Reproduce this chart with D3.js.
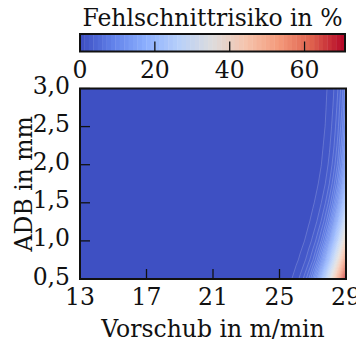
<!DOCTYPE html>
<html><head><meta charset="utf-8">
<script src="https://cdn.jsdelivr.net/npm/d3@7"></script>
<style>
body{margin:0;background:#fff}
svg{display:block}
</style>
</head><body>
<svg id="chart" width="356" height="344"></svg>
<script>
// Feed rate grid (m/min) and ADB grid (mm) on which the risk is sampled
const feedRates = [25, 25.25, 25.5, 25.75, 26, 26.25, 26.5, 26.75, 27, 27.25, 27.5, 27.75, 28, 28.25, 28.5, 28.75, 29];
const adbValues = [0.5, 0.75, 1.0, 1.25, 1.5, 1.75, 2.0, 2.25, 2.5, 2.75, 3.0];
// Miscut risk in %, one row per ADB value (bottom to top), columns follow feedRates.
// Below 25 m/min the risk is practically zero.
const risk = [
  [0.36, 0.53, 0.80, 1.20, 1.79, 2.67, 3.96, 5.83, 8.52, 12.28, 17.38, 24.02, 32.21, 41.67, 51.77, 61.74, 70.8],
  [0.18, 0.28, 0.42, 0.63, 0.94, 1.41, 2.11, 3.14, 4.66, 6.86, 9.99, 14.33, 20.13, 27.53, 36.40, 46.31, 56.51],
  [0.10, 0.15, 0.23, 0.34, 0.52, 0.78, 1.18, 1.78, 2.66, 3.98, 5.91, 8.68, 12.59, 17.90, 24.83, 33.34, 43.09],
  [0.06, 0.09, 0.13, 0.20, 0.30, 0.46, 0.69, 1.05, 1.59, 2.40, 3.60, 5.39, 7.97, 11.65, 16.71, 23.40, 31.73],
  [0.03, 0.05, 0.08, 0.12, 0.18, 0.28, 0.43, 0.65, 1.00, 1.52, 2.30, 3.48, 5.22, 7.78, 11.43, 16.48, 23.18],
  [0.02, 0.03, 0.05, 0.08, 0.12, 0.18, 0.28, 0.43, 0.66, 1.01, 1.55, 2.36, 3.58, 5.40, 8.07, 11.89, 17.18],
  [0.02, 0.02, 0.04, 0.06, 0.09, 0.13, 0.20, 0.31, 0.48, 0.74, 1.14, 1.75, 2.66, 4.05, 6.11, 9.11, 13.38],
  [0.01, 0.02, 0.03, 0.04, 0.07, 0.11, 0.16, 0.25, 0.39, 0.60, 0.93, 1.42, 2.18, 3.33, 5.06, 7.60, 11.28],
  [0.01, 0.02, 0.02, 0.04, 0.06, 0.09, 0.14, 0.21, 0.33, 0.50, 0.78, 1.20, 1.85, 2.83, 4.32, 6.54, 9.77],
  [0.01, 0.01, 0.02, 0.03, 0.05, 0.08, 0.12, 0.19, 0.29, 0.45, 0.69, 1.06, 1.64, 2.51, 3.84, 5.83, 8.75],
  [0.01, 0.01, 0.02, 0.03, 0.04, 0.07, 0.11, 0.17, 0.26, 0.40, 0.62, 0.96, 1.48, 2.27, 3.47, 5.28, 7.94]
];
const xDomain = [13, 29];
const yDomain = [0.5, 3.0];
const xTicks = [13, 17, 21, 25, 29];
const yTicks = [0.5, 1.0, 1.5, 2.0, 2.5, 3.0];
const cbarTicks = [0, 20, 40, 60];
const riskMax = 70.8;
const bandCount = 60;

const svg = d3.select("#chart")
  .attr("font-family", "'DejaVu Serif', 'Liberation Serif', serif");
const plot = {left: 80, right: 346, top: 88.5, bottom: 279};
const cbar = {left: 80, right: 345, top: 34, bottom: 51.5};
const tickLen = 10;
const fontSize = 23.5;
const ink = "#111";

// coolwarm diverging colormap
const coolwarm = d3.piecewise(d3.interpolateRgb, [
  "rgb(59,76,192)", "rgb(98,130,234)", "rgb(141,176,254)", "rgb(184,208,249)",
  "rgb(221,220,220)", "rgb(245,196,173)", "rgb(244,154,123)", "rgb(222,96,77)", "rgb(180,4,38)"
]);
const step = riskMax / bandCount;
const bandColor = i => coolwarm((i + 0.5) / bandCount);

const x = d3.scaleLinear().domain(xDomain).range([plot.left, plot.right]);
const y = d3.scaleLinear().domain(yDomain).range([plot.bottom, plot.top]);

svg.append("defs").append("clipPath").attr("id", "plotClip")
  .append("rect").attr("x", plot.left).attr("y", plot.top)
  .attr("width", plot.right - plot.left).attr("height", plot.bottom - plot.top);

// lowest band fills the whole field
svg.append("rect").attr("x", plot.left).attr("y", plot.top)
  .attr("width", plot.right - plot.left).attr("height", plot.bottom - plot.top)
  .attr("fill", bandColor(0));

// filled contours
const nx = feedRates.length, ny = adbValues.length;
const dxStep = feedRates[1] - feedRates[0];
const dyStep = adbValues[1] - adbValues[0];
const flat = risk.flat();
const thresholds = d3.range(1, bandCount).map(i => i * step);
const contours = d3.contours().size([nx, ny]).thresholds(thresholds)(flat);
const proj = d3.geoTransform({
  point(gx, gy) {
    this.stream.point(x(feedRates[0] + (gx - 0.5) * dxStep), y(adbValues[0] + (gy - 0.5) * dyStep));
  }
});
const path = d3.geoPath(proj);
svg.append("g").attr("clip-path", "url(#plotClip)")
  .selectAll("path").data(contours).join("path")
  .attr("d", path)
  .attr("fill", (d, i) => bandColor(i + 1))
  .attr("stroke", "#fff").attr("stroke-opacity", 0.32).attr("stroke-width", 0.6);

// axis ticks (inward)
const tickG = svg.append("g").attr("stroke", ink).attr("stroke-width", 1.3);
tickG.selectAll(".xt").data(xTicks).join("line")
  .attr("x1", d => x(d)).attr("x2", d => x(d))
  .attr("y1", plot.bottom).attr("y2", plot.bottom - tickLen);
tickG.selectAll(".yt").data(yTicks).join("line")
  .attr("x1", plot.left).attr("x2", plot.left + tickLen)
  .attr("y1", d => y(d)).attr("y2", d => y(d));

svg.append("rect").attr("x", plot.left).attr("y", plot.top)
  .attr("width", plot.right - plot.left).attr("height", plot.bottom - plot.top)
  .attr("fill", "none").attr("stroke", ink).attr("stroke-width", 2);

const deFmt = d3.formatLocale({decimal: ",", thousands: ".", grouping: [3], currency: ["", "€"]}).format(".1f");

svg.selectAll(".xl").data(xTicks).join("text")
  .attr("x", d => x(d)).attr("y", 305).attr("text-anchor", "middle")
  .attr("font-size", fontSize).attr("fill", ink).text(d => d);
svg.selectAll(".yl").data(yTicks).join("text")
  .attr("x", 70).attr("y", d => y(d) + 5.5).attr("text-anchor", "end")
  .attr("font-size", fontSize).attr("fill", ink).text(d => deFmt(d));

svg.append("text").attr("x", (plot.left + plot.right) / 2).attr("y", 337)
  .attr("text-anchor", "middle").attr("font-size", fontSize).attr("fill", ink).text("Vorschub in m/min");
svg.append("text").attr("transform", `translate(31.5,${(plot.top + plot.bottom) / 2}) rotate(-90)`)
  .attr("text-anchor", "middle").attr("font-size", fontSize).attr("fill", ink).text("ADB in mm");

// colorbar
const cx = d3.scaleLinear().domain([0, riskMax]).range([cbar.left, cbar.right]);
svg.append("g").selectAll("rect").data(d3.range(bandCount)).join("rect")
  .attr("x", i => cx(i * step)).attr("y", cbar.top)
  .attr("width", i => cx((i + 1) * step) - cx(i * step) + 0.4)
  .attr("height", cbar.bottom - cbar.top)
  .attr("fill", i => bandColor(i));
svg.append("g").attr("stroke", ink).attr("stroke-width", 1.3)
  .selectAll("line").data(cbarTicks.filter(t => t > 0)).join("line")
  .attr("x1", d => cx(d)).attr("x2", d => cx(d))
  .attr("y1", cbar.bottom).attr("y2", cbar.bottom - tickLen);
svg.append("rect").attr("x", cbar.left).attr("y", cbar.top)
  .attr("width", cbar.right - cbar.left).attr("height", cbar.bottom - cbar.top)
  .attr("fill", "none").attr("stroke", ink).attr("stroke-width", 2);
svg.selectAll(".cl").data(cbarTicks).join("text")
  .attr("x", d => cx(d)).attr("y", 78).attr("text-anchor", "middle")
  .attr("font-size", fontSize).attr("fill", ink).text(d => d);
svg.append("text").attr("x", (cbar.left + cbar.right) / 2).attr("y", 26)
  .attr("text-anchor", "middle").attr("font-size", fontSize).attr("fill", ink).text("Fehlschnittrisiko in %");
</script>
</body></html>
